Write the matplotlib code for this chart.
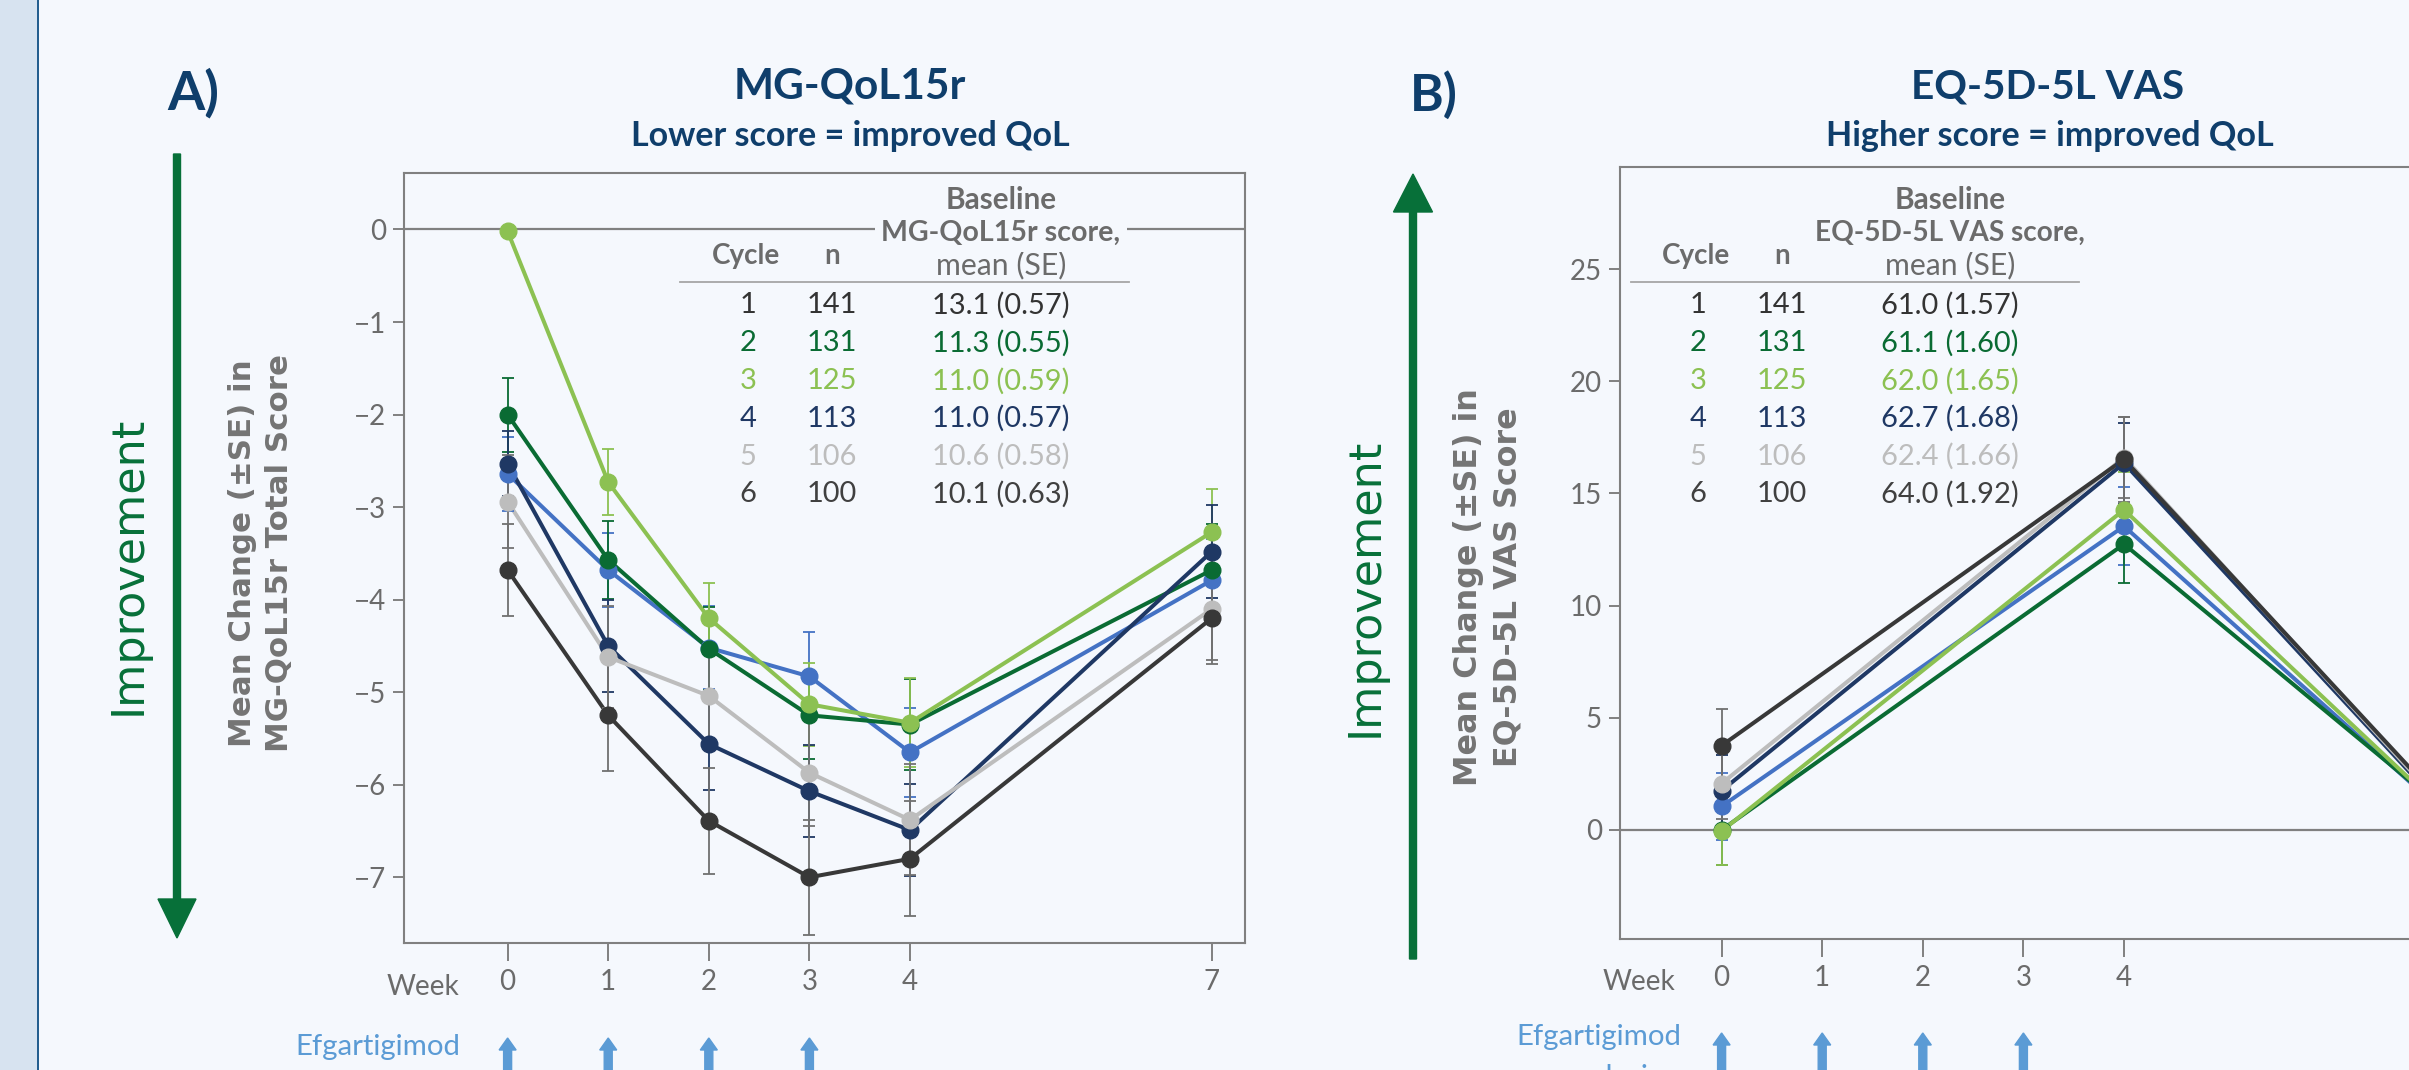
import numpy as np
import matplotlib
matplotlib.use('Agg')
import matplotlib.pyplot as plt
from matplotlib.patches import Rectangle, FancyArrow
from matplotlib.lines import Line2D
from matplotlib.transforms import IdentityTransform

W, H = 2409, 1070

weeks_a = [0, 1, 2, 3, 4, 7]
weeks_b = [0, 4, 7]
dose_weeks = [0, 1, 2, 3]

cycles = ['1', '2', '3', '4', '5', '6']
n_pts = ['141', '131', '125', '113', '106', '100']
base_qol = ['13.1 (0.57)', '11.3 (0.55)', '11.0 (0.59)', '11.0 (0.57)', '10.6 (0.58)', '10.1 (0.63)']
base_vas = ['61.0 (1.57)', '61.1 (1.60)', '62.0 (1.65)', '62.7 (1.68)', '62.4 (1.66)', '64.0 (1.92)']

# MG-QoL15r mean change from cycle baseline, per cycle
qol_c1 = [-2.64, -3.68, -4.52, -4.83, -5.65, -3.79]
qol_c2 = [-2.00, -3.57, -4.53, -5.25, -5.35, -3.68]
qol_c3 = [-0.02, -2.73, -4.20, -5.13, -5.33, -3.27]
qol_c4 = [-2.53, -4.50, -5.56, -6.07, -6.49, -3.48]
qol_c5 = [-2.94, -4.62, -5.04, -5.87, -6.38, -4.10]
qol_c6 = [-3.68, -5.25, -6.39, -7.00, -6.80, -4.20]

qol_se1 = [0.40, 0.40, 0.45, 0.48, 0.48, 0.45]
qol_se2 = [0.40, 0.42, 0.45, 0.47, 0.49, 0.50]
qol_se3 = [0.00, 0.36, 0.38, 0.45, 0.48, 0.47]
qol_se4 = [0.35, 0.50, 0.50, 0.50, 0.50, 0.50]
qol_se5 = [0.50, 0.55, 0.55, 0.58, 0.60, 0.55]
qol_se6 = [0.50, 0.60, 0.57, 0.62, 0.62, 0.50]

# EQ-5D-5L VAS mean change from cycle baseline, per cycle
vas_c1 = [1.05, 13.54, 1.5]
vas_c2 = [0.00, 12.74, 1.6]
vas_c3 = [-0.05, 14.27, 1.6]
vas_c4 = [1.75, 16.35, 1.8]
vas_c5 = [2.07, 16.60, 1.9]
vas_c6 = [3.76, 16.52, 2.0]

vas_se1 = [1.5, 1.74, 1.6]
vas_se2 = [1.57, 1.74, 1.6]
vas_se3 = [1.5, 1.70, 1.6]
vas_se4 = [1.6, 1.80, 1.7]
vas_se5 = [1.6, 1.80, 1.7]
vas_se6 = [1.63, 1.90, 1.8]

line_colors = ['#4472c4', '#0a6b33', '#8cc152', '#1f3864', '#bdbdbd', '#383838']
err_colors = ['#4472c4', '#0a6b33', '#8cc152', '#1f3864', '#737373', '#707070']
table_colors = ['#333333', '#0a6b33', '#8cc152', '#1f3864', '#bdbdbd', '#404040']

bg = '#f5f8fd'
navy_txt = '#0f3e6b'
gray_txt = '#6b6b6b'
green = '#077039'
dose_blue = '#5b9bd5'

plt.rcParams['font.family'] = ['Lato', 'DejaVu Sans']

fig = plt.figure(figsize=(W / 100, H / 100), dpi=100, facecolor=bg)
renderer = fig.canvas.get_renderer()


def fx(x):
    return x / W


def fy(y):
    return 1 - y / H


def label(x, y, s, target, vertical=False, **kw):
    # place a text, then scale its font so its size in pixels matches the reference
    t = fig.text(fx(x), fy(y), s, **kw)
    bb = t.get_window_extent(renderer)
    cur = bb.height if vertical else bb.width
    t.set_fontsize(t.get_fontsize() * target / cur)
    return t


fig.patches.append(Rectangle((0, 0), fx(37), 1, transform=fig.transFigure,
                             facecolor='#d7e3f0', edgecolor='none', zorder=0))
fig.add_artist(Line2D([fx(38), fx(38)], [0, 1], color='#1f5a8c', lw=1.4))


def setup_axes(pos, xlim, ylim, xticks, yticks):
    ax = fig.add_axes(pos)
    ax.set_facecolor(bg)
    ax.set_xlim(*xlim)
    ax.set_ylim(*ylim)
    for s in ax.spines.values():
        s.set_color('#808080')
        s.set_linewidth(1.5)
    ax.set_xticks(xticks)
    ax.set_yticks(yticks)
    ax.tick_params(axis='x', length=13, width=1.4, color='#808080', pad=6,
                   labelsize=20, labelcolor=gray_txt)
    ax.tick_params(axis='y', length=8, width=1.4, color='#808080', pad=5,
                   labelsize=20, labelcolor=gray_txt)
    ax.axhline(0, color='#808080', lw=1.6, zorder=1)
    return ax


def draw_series(ax, weeks, series, ses):
    for vals, se, lc, ec in zip(series, ses, line_colors, err_colors):
        ax.plot(weeks, vals, color=lc, lw=2.9, zorder=2)
        ax.errorbar(weeks, vals, yerr=se, fmt='none', ecolor=ec, elinewidth=1.3,
                    capsize=4.3, capthick=1.3, zorder=2.5, clip_on=False)
        ax.plot(weeks, vals, color=lc, lw=0, marker='o', markersize=12, zorder=3)


def draw_table(cx_cycle, cx_n, cx_val, line_x0, line_x1, head, head_w, values):
    label(cx_cycle, 256, 'Cycle', 68, ha='center', va='center', fontsize=19,
          fontweight='bold', color=gray_txt)
    fig.text(fx(cx_n), fy(256), 'n', ha='center', va='center',
             fontsize=20, fontweight='bold', color=gray_txt)
    label(cx_val, 200, 'Baseline', 111, ha='center', va='center', fontsize=19,
          fontweight='bold', color=gray_txt)
    label(cx_val, 233, head, head_w, ha='center', va='center', fontsize=19,
          fontweight='bold', color=gray_txt, zorder=5,
          bbox=dict(facecolor=bg, edgecolor='none', pad=4))
    label(cx_val, 265, 'mean (SE)', 130, ha='center', va='center', fontsize=19,
          color=gray_txt)
    fig.add_artist(Line2D([fx(line_x0), fx(line_x1)], [fy(282), fy(282)],
                          color='#a6a6a6', lw=1.3))
    for i, (c, n, v, col) in enumerate(zip(cycles, n_pts, values, table_colors)):
        yy = 305 + 37.9 * i
        t = label(cx_val, yy, v, 138, ha='center', va='center', fontsize=18.5, color=col)
        fs = t.get_fontsize()
        fig.text(fx(cx_cycle + 2), fy(yy), c, ha='center', va='center', fontsize=fs, color=col)
        fig.text(fx(cx_n), fy(yy), n, ha='center', va='center', fontsize=fs, color=col)


def dosing_label(x_right, y_first):
    t = label(x_right, y_first, 'Efgartigimod', 165, ha='right', va='center',
              fontsize=19, color=dose_blue)
    fig.text(fx(x_right - 1), fy(y_first + 40), 'dosing', ha='right', va='center',
             fontsize=t.get_fontsize(), color=dose_blue)


def dose_arrows(ax, tip_y):
    for wk in dose_weeks:
        xp = ax.transData.transform((wk, 0))[0]
        fig.add_artist(FancyArrow(xp, H - tip_y - 40, 0, 40, width=8, head_width=17,
                                  head_length=12, length_includes_head=True,
                                  color=dose_blue, transform=IdentityTransform()))


# ---- Panel A: MG-QoL15r ----
axA = setup_axes([fx(404), fy(943), (1245 - 404) / W, (943 - 173) / H],
                 (-1.03, 7.33), (-7.71, 0.61), weeks_a, [0, -1, -2, -3, -4, -5, -6, -7])
draw_series(axA, weeks_a, [qol_c1, qol_c2, qol_c3, qol_c4, qol_c5, qol_c6],
            [qol_se1, qol_se2, qol_se3, qol_se4, qol_se5, qol_se6])

label(193, 93, 'A)', 52, ha='center', va='center', fontsize=38,
      fontweight='bold', color=navy_txt)
label(850, 87, 'MG-QoL15r', 232, ha='center', va='center', fontsize=29,
      fontweight='bold', color=navy_txt)
label(850, 136, 'Lower score = improved QoL', 438, ha='center', va='center',
      fontsize=20, fontweight='bold', color=navy_txt)
label(261, 553, 'Mean Change (±SE) in\nMG-QoL15r Total Score', 398, vertical=True,
      rotation=90, ha='center', va='center', fontsize=21, fontweight='bold',
      color='#747474', family='DejaVu Sans', linespacing=1.35)
label(128, 565, 'Improvement', 300, vertical=True, rotation=90, ha='center',
      va='center', fontsize=32, color=green, family='DejaVu Sans')
fig.add_artist(FancyArrow(177, H - 154, 0, -(938 - 154), width=7, head_width=38,
                          head_length=39, length_includes_head=True, color=green,
                          transform=IdentityTransform()))
label(459, 987, 'Week', 73, ha='right', va='center', fontsize=20, color=gray_txt)
dosing_label(460, 1047)
draw_table(746, 832, 1001, 680, 1129, 'MG-QoL15r score,', 239, base_qol)
dose_arrows(axA, 1038)

# ---- Panel B: EQ-5D-5L VAS ----
axB = setup_axes([fx(1620), fy(939), 839 / W, (939 - 167) / H],
                 (-1.01, 7.33), (-4.86, 29.55), weeks_a[:5], [0, 5, 10, 15, 20, 25])
draw_series(axB, weeks_b, [vas_c1, vas_c2, vas_c3, vas_c4, vas_c5, vas_c6],
            [vas_se1, vas_se2, vas_se3, vas_se4, vas_se5, vas_se6])

label(1434, 95, 'B)', 48, ha='center', va='center', fontsize=38,
      fontweight='bold', color=navy_txt)
label(2048, 87, 'EQ-5D-5L VAS', 273, ha='center', va='center', fontsize=29,
      fontweight='bold', color=navy_txt)
label(2050, 136, 'Higher score = improved QoL', 447, ha='center', va='center',
      fontsize=20, fontweight='bold', color=navy_txt)
label(1488, 587, 'Mean Change (±SE) in\nEQ-5D-5L VAS Score', 398, vertical=True,
      rotation=90, ha='center', va='center', fontsize=21, fontweight='bold',
      color='#747474', family='DejaVu Sans', linespacing=1.35)
label(1365, 587, 'Improvement', 300, vertical=True, rotation=90, ha='center',
      va='center', fontsize=32, color=green, family='DejaVu Sans')
fig.add_artist(FancyArrow(1413, H - 959, 0, 959 - 174, width=7, head_width=39,
                          head_length=38, length_includes_head=True, color=green,
                          transform=IdentityTransform()))
label(1675, 982, 'Week', 73, ha='right', va='center', fontsize=20, color=gray_txt)
dosing_label(1681, 1037)
draw_table(1696, 1782, 1950, 1631, 2079, 'EQ-5D-5L VAS score,', 270, base_vas)
dose_arrows(axB, 1033)

fig.savefig('out.png', dpi=100, facecolor=bg)
